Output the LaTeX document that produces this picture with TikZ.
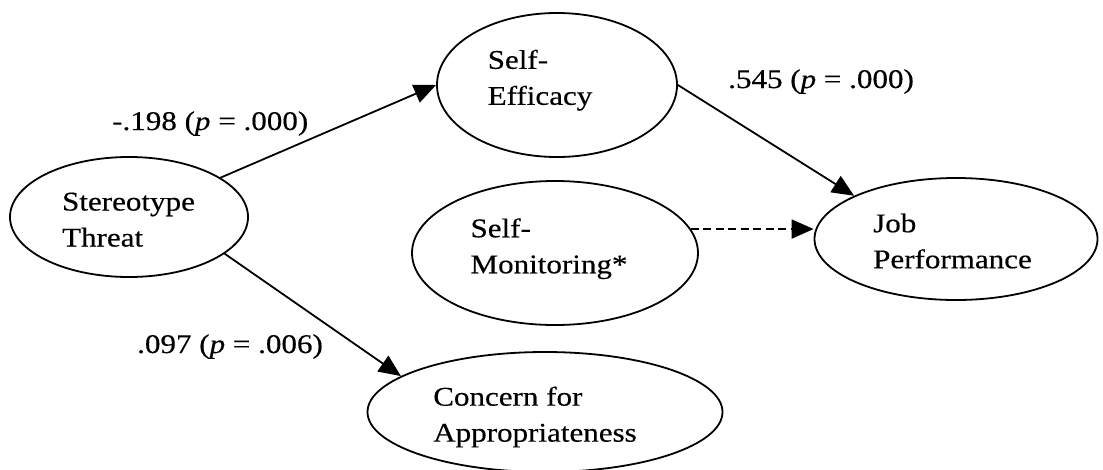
\documentclass[tikz,border=0pt]{standalone}
\usepackage{fontspec}
\setmainfont{Liberation Serif}[FakeStretch=1.15, FakeBold=0.4]
\usetikzlibrary{arrows.meta,shapes.geometric,positioning}
\tikzset{
    latent/.style={draw, ellipse, line width=1.8pt, inner sep=0pt},
    effect/.style={-{Triangle[length=22pt, width=19pt]}, line width=1.8pt},
    weak/.style={effect, dash pattern=on 8pt off 4.5pt},
    coef/.style={anchor=base west, inner sep=0pt},
    nametext/.style={align=left, inner sep=0pt}
}

\begin{document}
\begin{tikzpicture}[x=1pt, y=-1pt, font=\fontsize{27}{36}\selectfont]
    \useasboundingbox (0,0) rectangle (1103,469);
    % constructs
    \node[latent, minimum width=238pt, minimum height=120pt,
        label={[nametext, name=st-txt, xshift=-0.5pt, yshift=-2.7pt]center:Stereotype\\Threat}] (st) at (129,217) {};
    \node[latent, minimum width=240pt, minimum height=144pt,
        label={[nametext, name=se-txt, xshift=-17pt, yshift=4.8pt]center:Self-\\Efficacy}] (se) at (557,85) {};
    \node[latent, minimum width=286pt, minimum height=144pt,
        label={[nametext, name=sm-txt, xshift=-6pt, yshift=4.3pt]center:Self-\\Monitoring*}] (sm) at (555,253) {};
    \node[latent, minimum width=283pt, minimum height=122pt,
        label={[nametext, name=jp-txt, xshift=-3.5pt, yshift=-2pt]center:Job\\Performance}] (jp) at (956,239) {};
    \node[latent, minimum width=355pt, minimum height=120pt,
        label={[nametext, name=ca-txt, xshift=-10pt, yshift=-5pt]center:Concern for\\Appropriateness}] (ca) at (545,412) {};
    % paths
    \draw[effect] (st) -- (se.west);
    \draw[effect] (st.-21) -- (ca.166);
    \draw[effect] (se.east) -- (jp.157);
    \draw[weak] (sm.10) -- (sm.10 -| jp.west);
    % coefficients
    \node[coef] (b-se) at (112,130) {-.198 (\textit{p} = .000)};
    \node[coef] (b-ca) at (137,353) {.097 (\textit{p} = .006)};
    \node[coef] (b-jp) at (728,88) {.545 (\textit{p} = .000)};
\end{tikzpicture}
\end{document}
